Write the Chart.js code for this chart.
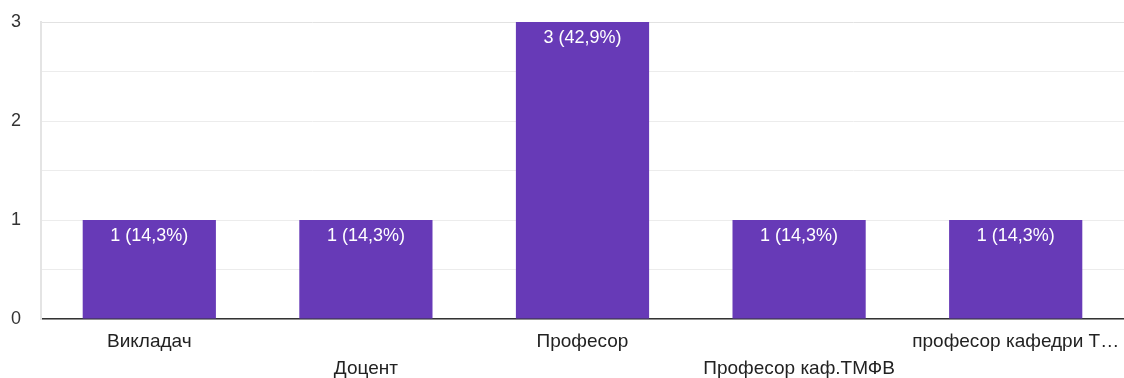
<!DOCTYPE html>
<html>
<head>
<meta charset="utf-8">
<script src="https://cdn.jsdelivr.net/npm/chart.js@4/dist/chart.umd.min.js"></script>
<style>
  html, body { margin: 0; padding: 0; background: #fff; }
  #wrap { width: 1124px; height: 378px; }
</style>
</head>
<body>
<div id="wrap"><canvas id="chart"></canvas></div>
<script>
// categories, alternating rows like the original
const categories = [
  ['Викладач', ''],
  ['', 'Доцент'],
  ['Професор', ''],
  ['', 'Професор каф.ТМФВ'],
  ['професор кафедри Т…', '']
];
const counts = [1, 1, 3, 1, 1];
const valueLabels = ['1 (14,3%)', '1 (14,3%)', '3 (42,9%)', '1 (14,3%)', '1 (14,3%)'];
const yTicks = [0, 1, 2, 3];

const FONT = "'Liberation Sans', Arial, sans-serif";

// draws the white count/percent text inside each bar
const barText = {
  id: 'barText',
  afterDatasetsDraw(chart) {
    const ctx = chart.ctx;
    const meta = chart.getDatasetMeta(0);
    ctx.save();
    ctx.fillStyle = '#ffffff';
    ctx.font = '18px ' + FONT;
    ctx.textAlign = 'center';
    ctx.textBaseline = 'middle';
    meta.data.forEach((bar, i) => {
      ctx.fillText(valueLabels[i], bar.x, bar.y + 16);
    });
    ctx.restore();
  }
};

new Chart(document.getElementById('chart'), {
  type: 'bar',
  data: {
    labels: categories,
    datasets: [{
      data: counts,
      backgroundColor: '#673ab7',
      barPercentage: 0.615,
      categoryPercentage: 1
    }]
  },
  options: {
    responsive: true,
    maintainAspectRatio: false,
    animation: false,
    layout: { padding: { top: 22, right: 0, bottom: 0, left: 0 } },
    plugins: {
      legend: { display: false },
      tooltip: { enabled: false }
    },
    scales: {
      x: {
        afterFit(scale) { scale.height = 59; scale.paddingRight = 0; },
        grid: { display: false },
        border: { color: '#333333', width: 1.5 },
        ticks: {
          color: '#222222',
          font: { family: FONT, size: 19, lineHeight: 1.42 },
          autoSkip: false,
          maxRotation: 0,
          minRotation: 0,
          padding: 1
        }
      },
      y: {
        min: 0,
        max: 3,
        afterFit(scale) { scale.width = 41; scale.paddingTop = 0; scale.paddingBottom = 0; },
        grid: {
          color: (c) => c.tick && c.tick.value === 3 ? '#e2e2e2' : '#ececec',
          drawTicks: false
        },
        border: { color: '#e4e4e4', width: 2 },
        ticks: {
          stepSize: 0.5,
          color: '#333333',
          font: { family: FONT, size: 18 },
          padding: 20,
          callback: (v) => yTicks.includes(v) ? String(v) : ''
        }
      }
    }
  },
  plugins: [barText]
});
</script>
</body>
</html>
